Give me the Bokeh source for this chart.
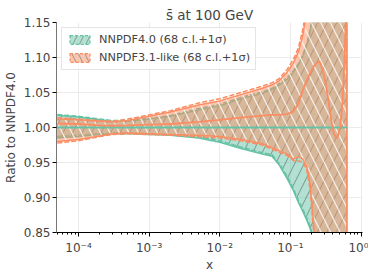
from bokeh.plotting import figure
from bokeh.models import FixedTicker, NumeralTickFormatter, Legend, LegendItem, ColumnDataSource
from bokeh.embed import file_html
from bokeh.resources import INLINE

# ---- data ----
xs = [4e-5, 5e-5, 1e-4, 2e-4, 3e-4, 5e-4, 1e-3, 2e-3, 5e-3, 1e-2, 2e-2, 4e-2, 5.5e-2, 7e-2, 9e-2,
      0.11, 0.13, 0.15, 0.17, 0.19, 0.2, 0.21, 0.22, 0.24, 0.26, 0.29, 0.32, 0.35, 0.38, 0.41,
      0.45, 0.48, 0.51, 0.55, 0.59, 0.63]

# NNPDF4.0 (ratio to itself)
g_c = [1.0, 1.0, 1.0, 1.0, 1.0, 1.0, 1.0, 1.0, 1.0, 1.0, 1.0, 1.0, 1.0, 1.0, 1.0, 1.0, 1.0, 1.0,
       1.0, 1.0, 1.0, 1.0, 1.0, 1.0, 1.0, 1.0, 1.0, 1.0, 1.0, 1.0, 1.0, 1.0, 1.0, 1.0, 1.0, 1.0]
g_up = [1.018, 1.0175, 1.015, 1.011, 1.009, 1.009, 1.012, 1.016, 1.025, 1.031, 1.041, 1.049, 1.054,
        1.061, 1.069, 1.079, 1.089, 1.102, 1.117, 1.137, 1.150, 1.165, 1.180, 1.220, 1.280, 1.400,
        1.550, 1.700, 1.900, 2.100, 2.300, 2.500, 2.700, 2.900, 3.100, 3.300]
g_lo = [0.984, 0.985, 0.987, 0.990, 0.991, 0.991, 0.990, 0.989, 0.985, 0.979, 0.970, 0.962, 0.959,
        0.946, 0.927, 0.910, 0.893, 0.880, 0.868, 0.856, 0.848, 0.830, 0.810, 0.760, 0.700, 0.600,
        0.500, 0.400, 0.300, 0.200, 0.100, 0.0, -0.1, -0.2, -0.3, -0.4]
g_up_sd = [1.019, 1.0185, 1.016, 1.012, 1.010, 1.010, 1.013, 1.017, 1.027, 1.033, 1.043, 1.051, 1.056,
           1.063, 1.071, 1.081, 1.091, 1.104, 1.119, 1.139, 1.152, 1.167, 1.182, 1.222, 1.282, 1.402,
           1.552, 1.702, 1.902, 2.102, 2.302, 2.502, 2.702, 2.902, 3.102, 3.302]
g_lo_sd = [0.986, 0.987, 0.989, 0.991, 0.992, 0.992, 0.991, 0.990, 0.987, 0.981, 0.972, 0.964, 0.961,
           0.948, 0.930, 0.913, 0.896, 0.883, 0.871, 0.859, 0.851, 0.834, 0.814, 0.765, 0.705, 0.605,
           0.505, 0.405, 0.305, 0.205, 0.105, 0.005, -0.095, -0.195, -0.295, -0.395]

# NNPDF3.1-like
o_c = [1.006, 1.0057, 1.005, 1.003, 1.0025, 1.003, 1.004, 1.005, 1.008, 1.011, 1.014, 1.017, 1.018,
       1.018, 1.019, 1.023, 1.034, 1.053, 1.067, 1.078, 1.082, 1.086, 1.089, 1.093, 1.094, 1.080,
       1.060, 1.035, 1.010, 0.992, 0.984, 0.990, 1.003, 1.040, 1.110, 1.200]
o_up = [1.013, 1.012, 1.011, 1.009, 1.008, 1.010, 1.016, 1.022, 1.032, 1.038, 1.047, 1.056, 1.061,
        1.067, 1.079, 1.092, 1.108, 1.132, 1.165, 1.22, 1.26, 1.30, 1.35, 1.45, 1.55, 1.70, 1.90,
        2.10, 2.30, 2.50, 2.70, 2.90, 3.10, 3.30, 3.50, 3.70]
o_lo = [0.979, 0.980, 0.983, 0.988, 0.991, 0.992, 0.991, 0.990, 0.989, 0.987, 0.983, 0.977, 0.971,
        0.967, 0.962, 0.955, 0.958, 0.955, 0.945, 0.920, 0.895, 0.870, 0.845, 0.780, 0.700, 0.600,
        0.500, 0.400, 0.300, 0.200, 0.100, 0.0, -0.1, -0.2, -0.3, -0.4]
o_up_sd = [1.015, 1.014, 1.012, 1.010, 1.009, 1.012, 1.018, 1.024, 1.035, 1.041, 1.050, 1.059, 1.064,
           1.070, 1.083, 1.097, 1.114, 1.140, 1.175, 1.235, 1.28, 1.32, 1.37, 1.47, 1.57, 1.72, 1.92,
           2.12, 2.32, 2.52, 2.72, 2.92, 3.12, 3.32, 3.52, 3.72]
o_lo_sd = [0.977, 0.978, 0.981, 0.987, 0.990, 0.991, 0.990, 0.989, 0.987, 0.985, 0.981, 0.975, 0.969,
           0.965, 0.960, 0.953, 0.952, 0.951, 0.940, 0.912, 0.885, 0.860, 0.835, 0.770, 0.690, 0.590,
           0.490, 0.390, 0.290, 0.190, 0.090, -0.010, -0.110, -0.210, -0.310, -0.410]

labels = ["NNPDF4.0 (68 c.l.+1\u03c3)", "NNPDF3.1-like (68 c.l.+1\u03c3)"]
title_text = "s\u0304 at 100 GeV"
x_major = [1e-4, 1e-3, 1e-2, 1e-1, 1.0]
x_major_labels = ["10\u207b\u2074", "10\u207b\u00b3", "10\u207b\u00b2", "10\u207b\u00b9", "10\u2070"]
y_major = [0.85, 0.90, 0.95, 1.00, 1.05, 1.10, 1.15]

GREEN = "#66c2a5"
ORANGE = "#fc8d62"
FONT = "DejaVu Sans"

x_minor = [m * 10.0 ** d for d in range(-5, 0) for m in range(2, 10)]

p = figure(x_axis_type="log", x_range=(4.88e-5, 1.05), y_range=(0.85, 1.15),
           frame_width=306, frame_height=210, output_backend="svg", toolbar_location=None,
           min_border_left=46, min_border_right=6, min_border_top=22, min_border_bottom=33)
p.background_fill_color = "white"
p.outline_line_color = None

p.title.text = title_text
p.title.align = "center"
p.title.text_font = FONT
p.title.text_font_size = "13.5px"
p.title.text_font_style = "normal"
p.title.standoff = 0

# bands
def band(xv, up, lo):
    return xv + xv[::-1], up + lo[::-1]

gx, gy = band(xs, g_up, g_lo)
p.patch(gx, gy, fill_color=GREEN, fill_alpha=0.5, line_color=GREEN, line_width=1.5,
        hatch_pattern="/", hatch_color="#5e6e66", hatch_alpha=0.75, hatch_scale=19, hatch_weight=0.9)
p.line(xs, g_up_sd, line_color=GREEN, line_width=1.5, line_dash="5 2")
p.line(xs, g_lo_sd, line_color=GREEN, line_width=1.5, line_dash="5 2")

ox, oy = band(xs, o_up, o_lo)
p.patch(ox, oy, fill_color=ORANGE, fill_alpha=0.5, line_color=ORANGE, line_width=1.5,
        hatch_pattern="\\", hatch_color="#ffffff", hatch_alpha=0.8, hatch_scale=19, hatch_weight=1.2)
p.line(xs, o_up_sd, line_color=ORANGE, line_width=1.5, line_dash="5 2")
p.line(xs, o_lo_sd, line_color=ORANGE, line_width=1.5, line_dash="5 2")

p.line(xs, g_c, line_color=GREEN, line_width=2)
p.line(xs, o_c, line_color=ORANGE, line_width=1.8)

# legend proxies (one undefined point, nothing drawn in the frame)
nan = float("nan")
lg = p.patch("x", "y", source=ColumnDataSource(data=dict(x=[nan], y=[nan])),
             fill_color=GREEN, fill_alpha=0.5, line_color=GREEN, line_dash="3 2", line_width=1.2,
             hatch_pattern="/", hatch_color="#6f7f78", hatch_alpha=0.7, hatch_scale=13)
lo_ = p.patch("x", "y", source=ColumnDataSource(data=dict(x=[nan], y=[nan])),
              fill_color=ORANGE, fill_alpha=0.5, line_color=ORANGE, line_dash="3 2", line_width=1.2,
              hatch_pattern="\\", hatch_color="#6f7f78", hatch_alpha=0.7, hatch_scale=13)
legend = Legend(items=[LegendItem(label=labels[0], renderers=[lg]),
                       LegendItem(label=labels[1], renderers=[lo_])],
                location="top_left", margin=5, padding=5, spacing=5,
                glyph_width=25, glyph_height=11, label_height=12, label_standoff=7,
                label_text_font=FONT, label_text_font_size="11.3px",
                border_line_color="#cccccc", border_line_width=1,
                background_fill_color="white", background_fill_alpha=0.8)
p.add_layout(legend)

# axes
p.xaxis.ticker = FixedTicker(ticks=x_major, minor_ticks=x_minor)
p.xaxis.major_label_overrides = {v: s for v, s in zip(x_major, x_major_labels)}
p.yaxis.ticker = FixedTicker(ticks=y_major)
p.yaxis.formatter = NumeralTickFormatter(format="0.00")
p.xaxis.axis_label = "x"
p.yaxis.axis_label = "Ratio to NNPDF4.0"
for ax in (p.xaxis, p.yaxis):
    ax.major_label_text_font = FONT
    ax.major_label_text_font_size = "12px"
    ax.axis_label_text_font = FONT
    ax.axis_label_text_font_size = "12px"
    ax.axis_label_text_font_style = "normal"
    ax.major_tick_in = 0
    ax.major_tick_out = 4
    ax.minor_tick_in = 0
    ax.minor_tick_out = 2
    ax.major_label_standoff = 2
    ax.axis_label_standoff = 3
    ax.major_tick_line_color = "black"
    ax.minor_tick_line_color = "black"
p.xaxis.major_label_standoff = 4
p.xaxis.axis_label_standoff = 0
p.yaxis.minor_tick_line_color = None
p.yaxis.axis_line_color = "#777777"
p.xaxis.axis_line_color = "black"

p.xgrid.ticker = FixedTicker(ticks=x_major)
p.xgrid.grid_line_color = "#ebebeb"
p.ygrid.grid_line_color = "#ebebeb"

open("out.html", "w").write(file_html(p, INLINE))
